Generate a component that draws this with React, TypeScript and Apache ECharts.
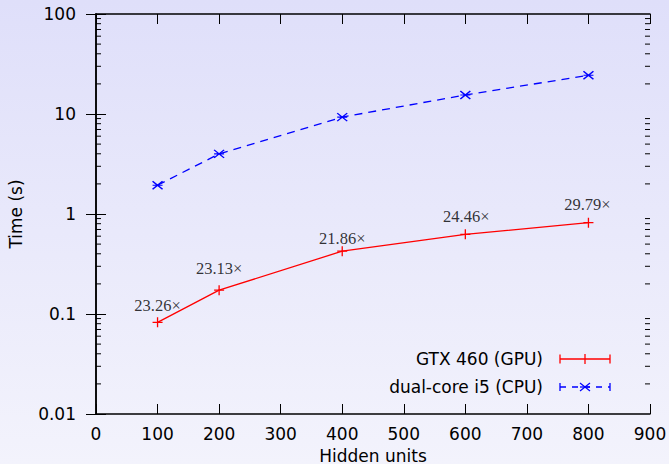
import React, { useEffect, useRef } from "react";
import * as echarts from "echarts";

const hiddenUnits = [100, 200, 400, 600, 800];
const gpuTimes = [0.0826, 0.173, 0.425, 0.626, 0.818];
const cpuTimes = [1.94, 3.99, 9.31, 15.5, 24.4];
const speedupLabels = ["23.26×", "23.13×", "21.86×", "24.46×", "29.79×"];
const gpuName = "GTX 460 (GPU)";
const cpuName = "dual-core i5 (CPU)";
const minorMultipliers = [2, 3, 4, 5, 6, 7, 8, 9];
const decades = [0.01, 0.1, 1, 10];

// label offsets (style, not data)
const labelOffsets: [number, number][] = [
  [0, -17],
  [0, -22],
  [0, -13],
  [1, -18],
  [-1, -18],
];

const SANS = "DejaVu Sans";
const SERIF = "Liberation Serif";

export default function App() {
  const ref = useRef<HTMLDivElement>(null);
  useEffect(() => {
    if (!ref.current) return;
    const chart = echarts.init(ref.current, null, { renderer: "svg" });
    const minorTicks: number[][] = [];
    decades.forEach((d) =>
      minorMultipliers.forEach((m) => minorTicks.push([0, +(m * d).toPrecision(3)]))
    );
    const plusPath = "path://M0,5L10,5M5,0L5,10";
    const starPath = "path://M0,0L10,8M0,8L10,0M0,4L10,4";

    const legendY1 = 359;
    const legendY2 = 387;

    chart.setOption({
      animation: false,
      backgroundColor: new echarts.graphic.LinearGradient(0, 0, 0, 1, [
        { offset: 0, color: "#dfdffa" },
        { offset: 1, color: "#f3f3fc" },
      ]),
      grid: {
        left: 96,
        right: 19,
        top: 14,
        bottom: 50,
        containLabel: false,
        outerBoundsMode: "none",
      },
      xAxis: [
        {
          type: "value",
          min: 0,
          max: 900,
          interval: 100,
          name: "Hidden units",
          nameLocation: "middle",
          nameGap: 33,
          nameTextStyle: { fontFamily: SANS, fontSize: 17, color: "#000" },
          axisLine: { show: true, lineStyle: { color: "#000", width: 1.5 } },
          axisTick: { show: true, inside: true, length: 10, lineStyle: { color: "#000", width: 1 } },
          axisLabel: { fontFamily: SANS, fontSize: 17, color: "#000", margin: 11 },
          splitLine: { show: false },
        },
        {
          type: "value",
          position: "top",
          min: 0,
          max: 900,
          interval: 100,
          axisLine: { show: true, lineStyle: { color: "#000", width: 1.5 } },
          axisTick: { show: true, inside: true, length: 10, lineStyle: { color: "#000", width: 1 } },
          axisLabel: { show: false },
          splitLine: { show: false },
        },
      ],
      yAxis: [
        {
          type: "log",
          logBase: 10,
          min: 0.01,
          max: 100,
          name: "Time (s)",
          nameLocation: "middle",
          nameRotate: 90,
          nameGap: 72,
          nameTextStyle: { fontFamily: SANS, fontSize: 17, color: "#000" },
          axisLine: { show: true, lineStyle: { color: "#000", width: 1.5 } },
          axisTick: { show: true, inside: true, length: 10, lineStyle: { color: "#000", width: 1 } },
          axisLabel: { fontFamily: SANS, fontSize: 17, color: "#000", margin: 20 },
          splitLine: { show: false },
        },
        {
          type: "log",
          logBase: 10,
          min: 0.01,
          max: 100,
          position: "right",
          axisLine: { show: true, lineStyle: { color: "#000", width: 1.5 } },
          axisTick: { show: true, inside: true, length: 10, lineStyle: { color: "#000", width: 1 } },
          axisLabel: { show: false },
          splitLine: { show: false },
        },
      ],
      series: [
        {
          type: "custom",
          silent: true,
          clip: false,
          xAxisIndex: 0,
          yAxisIndex: 0,
          encode: { x: 0, y: 1 },
          data: minorTicks,
          renderItem: (params: any, api: any) => {
            const v = api.value(1);
            const l = api.coord([0, v]);
            const r = api.coord([900, v]);
            return {
              type: "group",
              children: [
                {
                  type: "line",
                  shape: { x1: l[0], y1: l[1], x2: l[0] + 5, y2: l[1] },
                  style: { stroke: "#000", lineWidth: 1 },
                },
                {
                  type: "line",
                  shape: { x1: r[0] - 5, y1: r[1], x2: r[0], y2: r[1] },
                  style: { stroke: "#000", lineWidth: 1 },
                },
              ],
            };
          },
        },
        {
          name: cpuName,
          type: "line",
          data: hiddenUnits.map((x, i) => [x, cpuTimes[i]]),
          symbol: starPath,
          symbolSize: [10, 8],
          lineStyle: { color: "#0000ff", width: 1.3, type: [8, 6] },
          itemStyle: { color: "transparent", borderColor: "#0000ff", borderWidth: 1.3 },
        },
        {
          name: gpuName,
          type: "line",
          data: hiddenUnits.map((x, i) => [x, gpuTimes[i]]),
          symbol: plusPath,
          symbolSize: 10,
          lineStyle: { color: "#ff0000", width: 1.3 },
          itemStyle: { color: "transparent", borderColor: "#ff0000", borderWidth: 1.3 },
        },
        {
          type: "scatter",
          silent: true,
          symbolSize: 0,
          data: hiddenUnits.map((x, i) => ({
            value: [x, gpuTimes[i]],
            label: {
              show: true,
              position: "inside",
              offset: labelOffsets[i],
              formatter: speedupLabels[i],
              fontFamily: SERIF,
              fontSize: 16.5,
              color: "#000",
            },
          })),
        },
      ],
      graphic: [
        {
          type: "text",
          x: 543,
          y: legendY1,
          style: {
            text: gpuName,
            textAlign: "right",
            textVerticalAlign: "middle",
            fontFamily: SANS,
            fontSize: 17,
            fill: "#000",
          },
        },
        { type: "line", shape: { x1: 560, y1: legendY1, x2: 610, y2: legendY1 }, style: { stroke: "#ff0000", lineWidth: 1.3 } },
        { type: "line", shape: { x1: 560, y1: legendY1 - 4.5, x2: 560, y2: legendY1 + 4.5 }, style: { stroke: "#ff0000", lineWidth: 1.3 } },
        { type: "line", shape: { x1: 610, y1: legendY1 - 4.5, x2: 610, y2: legendY1 + 4.5 }, style: { stroke: "#ff0000", lineWidth: 1.3 } },
        { type: "line", shape: { x1: 585, y1: legendY1 - 5, x2: 585, y2: legendY1 + 5 }, style: { stroke: "#ff0000", lineWidth: 1.3 } },
        {
          type: "text",
          x: 543,
          y: legendY2,
          style: {
            text: cpuName,
            textAlign: "right",
            textVerticalAlign: "middle",
            fontFamily: SANS,
            fontSize: 17,
            fill: "#000",
          },
        },
        { type: "line", shape: { x1: 560, y1: legendY2, x2: 610, y2: legendY2 }, style: { stroke: "#0000ff", lineWidth: 1.3, lineDash: [6, 6] } },
        { type: "line", shape: { x1: 560, y1: legendY2 - 4, x2: 560, y2: legendY2 + 4 }, style: { stroke: "#0000ff", lineWidth: 1.3 } },
        { type: "line", shape: { x1: 610, y1: legendY2 - 4, x2: 610, y2: legendY2 + 4 }, style: { stroke: "#0000ff", lineWidth: 1.3 } },
        { type: "line", shape: { x1: 580, y1: legendY2 - 4, x2: 590, y2: legendY2 + 4 }, style: { stroke: "#0000ff", lineWidth: 1.3 } },
        { type: "line", shape: { x1: 580, y1: legendY2 + 4, x2: 590, y2: legendY2 - 4 }, style: { stroke: "#0000ff", lineWidth: 1.3 } },
        { type: "line", shape: { x1: 580, y1: legendY2, x2: 590, y2: legendY2 }, style: { stroke: "#0000ff", lineWidth: 1.3 } },
      ],
    });
    return () => chart.dispose();
  }, []);
  return (
    <div
      ref={ref}
      style={{ position: "absolute", left: 0, top: 0, width: 669, height: 464 }}
    />
  );
}
